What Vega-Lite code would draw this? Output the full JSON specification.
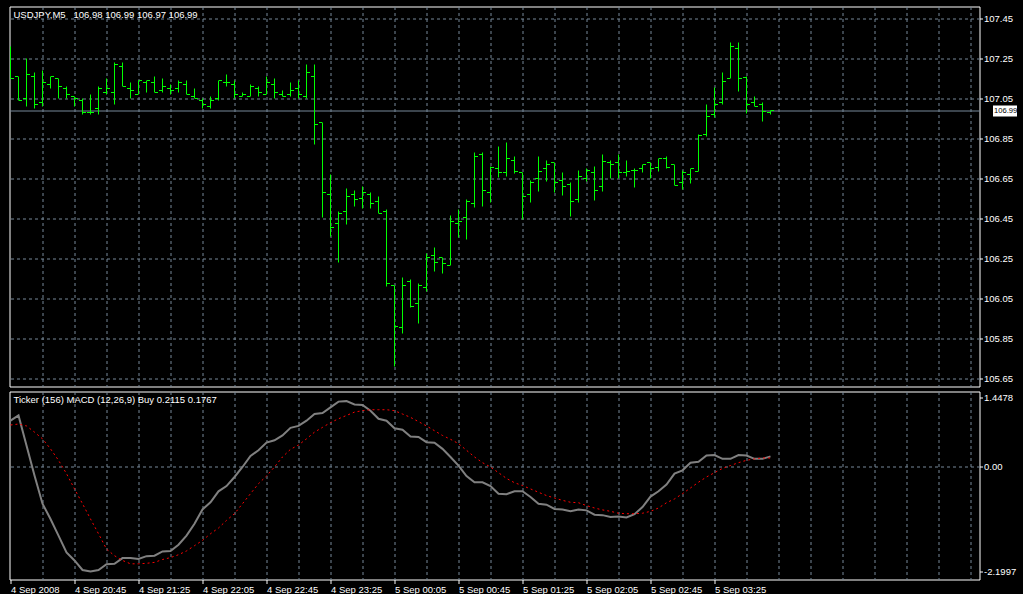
{
  "$schema": "https://vega.github.io/schema/vega-lite/v6.json",
  "background": "black",
  "padding": {"left": 5.5, "top": 5.5, "right": 0, "bottom": 0},
  "spacing": 3,
  "config": {
    "view": {"stroke": "white", "strokeWidth": 1, "fill": "black"},
    "axis": {
      "labelFont": "Liberation Sans",
      "labelFontSize": 9.5,
      "labelColor": "white",
      "gridColor": "#778899",
      "gridDash": [3, 3],
      "gridWidth": 1,
      "gridOpacity": 1,
      "domain": false,
      "title": null,
      "labelOverlap": false,
      "labelFlush": false
    },
    "title": {
      "color": "white",
      "font": "Liberation Sans",
      "fontSize": 9.5,
      "fontWeight": "normal",
      "anchor": "start",
      "offset": -13,
      "dx": 4,
      "frame": "group"
    }
  },
  "data": {
    "values": [
      {"i": 0, "o": null, "h": 107.31, "l": 107.15, "c": 107.15, "m": 0.96, "s": 0.87},
      {"i": 1, "o": 107.16, "h": 107.16, "l": 107.04, "c": 107.04, "m": 1.07, "s": 0.89},
      {"i": 2, "o": 107.05, "h": 107.25, "l": 107.01, "c": 107.17, "m": 0.44, "s": 0.85},
      {"i": 3, "o": 107.16, "h": 107.18, "l": 107.0, "c": 107.02, "m": -0.19, "s": 0.72},
      {"i": 4, "o": 107.03, "h": 107.19, "l": 107.01, "c": 107.13, "m": -0.78, "s": 0.58},
      {"i": 5, "o": 107.12, "h": 107.16, "l": 107.1, "c": 107.16, "m": -1.1, "s": 0.37},
      {"i": 6, "o": 107.15, "h": 107.15, "l": 107.05, "c": 107.11, "m": -1.45, "s": 0.13},
      {"i": 7, "o": 107.1, "h": 107.11, "l": 107.05, "c": 107.07, "m": -1.8, "s": -0.15},
      {"i": 8, "o": 107.06, "h": 107.06, "l": 107.01, "c": 107.05, "m": -1.97, "s": -0.47},
      {"i": 9, "o": 107.04, "h": 107.05, "l": 106.97, "c": 106.98, "m": -2.17, "s": -0.78},
      {"i": 10, "o": 106.98, "h": 107.07, "l": 106.97, "c": 106.98, "m": -2.2, "s": -1.1},
      {"i": 11, "o": 107.0, "h": 107.11, "l": 106.97, "c": 107.1, "m": -2.17, "s": -1.41},
      {"i": 12, "o": 107.08, "h": 107.15, "l": 107.07, "c": 107.1, "m": -2.05, "s": -1.73},
      {"i": 13, "o": 107.08, "h": 107.23, "l": 107.02, "c": 107.22, "m": -2.04, "s": -1.87},
      {"i": 14, "o": 107.21, "h": 107.23, "l": 107.11, "c": 107.11, "m": -1.92, "s": -1.97},
      {"i": 15, "o": 107.1, "h": 107.13, "l": 107.05, "c": 107.09, "m": -1.92, "s": -2.04},
      {"i": 16, "o": 107.07, "h": 107.14, "l": 107.07, "c": 107.14, "m": -1.94, "s": -2.04},
      {"i": 17, "o": 107.13, "h": 107.14, "l": 107.08, "c": 107.14, "m": -1.88, "s": -2.03},
      {"i": 18, "o": 107.13, "h": 107.16, "l": 107.08, "c": 107.08, "m": -1.87, "s": -2.01},
      {"i": 19, "o": 107.09, "h": 107.15, "l": 107.08, "c": 107.11, "m": -1.78, "s": -1.95},
      {"i": 20, "o": 107.1, "h": 107.12, "l": 107.07, "c": 107.09, "m": -1.77, "s": -1.91},
      {"i": 21, "o": 107.1, "h": 107.14, "l": 107.08, "c": 107.13, "m": -1.64, "s": -1.85},
      {"i": 22, "o": 107.12, "h": 107.14, "l": 107.07, "c": 107.07, "m": -1.45, "s": -1.77},
      {"i": 23, "o": 107.06, "h": 107.1, "l": 107.05, "c": 107.05, "m": -1.2, "s": -1.66},
      {"i": 24, "o": 107.04, "h": 107.05, "l": 107.0, "c": 107.02, "m": -0.9, "s": -1.55},
      {"i": 25, "o": 107.01, "h": 107.06, "l": 107.0, "c": 107.04, "m": -0.75, "s": -1.41},
      {"i": 26, "o": 107.05, "h": 107.14, "l": 107.04, "c": 107.14, "m": -0.52, "s": -1.29},
      {"i": 27, "o": 107.13, "h": 107.17, "l": 107.11, "c": 107.13, "m": -0.41, "s": -1.13},
      {"i": 28, "o": 107.12, "h": 107.14, "l": 107.05, "c": 107.07, "m": -0.22, "s": -0.99},
      {"i": 29, "o": 107.06, "h": 107.08, "l": 107.06, "c": 107.07, "m": -0.01, "s": -0.78},
      {"i": 30, "o": 107.06, "h": 107.12, "l": 107.06, "c": 107.11, "m": 0.22, "s": -0.57},
      {"i": 31, "o": 107.1, "h": 107.11, "l": 107.06, "c": 107.08, "m": 0.34, "s": -0.36},
      {"i": 32, "o": 107.07, "h": 107.16, "l": 107.07, "c": 107.13, "m": 0.5, "s": -0.2},
      {"i": 33, "o": 107.12, "h": 107.15, "l": 107.05, "c": 107.08, "m": 0.55, "s": -0.01},
      {"i": 34, "o": 107.07, "h": 107.09, "l": 107.06, "c": 107.06, "m": 0.65, "s": 0.2},
      {"i": 35, "o": 107.07, "h": 107.13, "l": 107.06, "c": 107.09, "m": 0.81, "s": 0.36},
      {"i": 36, "o": 107.1, "h": 107.14, "l": 107.05, "c": 107.07, "m": 0.85, "s": 0.45},
      {"i": 37, "o": 107.06, "h": 107.22, "l": 107.05, "c": 107.18, "m": 0.96, "s": 0.58},
      {"i": 38, "o": 107.16, "h": 107.22, "l": 106.82, "c": 106.92, "m": 1.1, "s": 0.72},
      {"i": 39, "o": 106.93, "h": 106.93, "l": 106.455, "c": 106.58, "m": 1.12, "s": 0.82},
      {"i": 40, "o": 106.57, "h": 106.67, "l": 106.36, "c": 106.405, "m": 1.24, "s": 0.92},
      {"i": 41, "o": 106.425, "h": 106.485, "l": 106.233, "c": 106.475, "m": 1.36, "s": 1.0},
      {"i": 42, "o": 106.485, "h": 106.6, "l": 106.42, "c": 106.56, "m": 1.37, "s": 1.07},
      {"i": 43, "o": 106.57, "h": 106.59, "l": 106.513, "c": 106.547, "m": 1.3, "s": 1.14},
      {"i": 44, "o": 106.55, "h": 106.61, "l": 106.5, "c": 106.58, "m": 1.29, "s": 1.17},
      {"i": 45, "o": 106.57, "h": 106.58, "l": 106.5, "c": 106.525, "m": 1.17, "s": 1.19},
      {"i": 46, "o": 106.535, "h": 106.56, "l": 106.475, "c": 106.475, "m": 1.0, "s": 1.19},
      {"i": 47, "o": 106.485, "h": 106.497, "l": 106.113, "c": 106.125, "m": 0.96, "s": 1.19},
      {"i": 48, "o": 106.117, "h": 106.117, "l": 105.713, "c": 105.913, "m": 0.8, "s": 1.17},
      {"i": 49, "o": 105.905, "h": 106.155, "l": 105.875, "c": 106.117, "m": 0.77, "s": 1.1},
      {"i": 50, "o": 106.135, "h": 106.147, "l": 106.005, "c": 106.013, "m": 0.63, "s": 1.03},
      {"i": 51, "o": 106.025, "h": 106.127, "l": 105.925, "c": 106.117, "m": 0.62, "s": 0.94},
      {"i": 52, "o": 106.105, "h": 106.277, "l": 106.085, "c": 106.255, "m": 0.51, "s": 0.85},
      {"i": 53, "o": 106.267, "h": 106.305, "l": 106.185, "c": 106.233, "m": 0.5, "s": 0.75},
      {"i": 54, "o": 106.255, "h": 106.255, "l": 106.175, "c": 106.225, "m": 0.37, "s": 0.65},
      {"i": 55, "o": 106.217, "h": 106.467, "l": 106.217, "c": 106.435, "m": 0.2, "s": 0.57},
      {"i": 56, "o": 106.425, "h": 106.497, "l": 106.355, "c": 106.435, "m": 0.02, "s": 0.48},
      {"i": 57, "o": 106.455, "h": 106.547, "l": 106.347, "c": 106.538, "m": -0.2, "s": 0.34},
      {"i": 58, "o": 106.525, "h": 106.78, "l": 106.505, "c": 106.76, "m": -0.33, "s": 0.2},
      {"i": 59, "o": 106.772, "h": 106.78, "l": 106.513, "c": 106.59, "m": -0.33, "s": 0.08},
      {"i": 60, "o": 106.58, "h": 106.713, "l": 106.533, "c": 106.708, "m": -0.41, "s": -0.01},
      {"i": 61, "o": 106.7, "h": 106.813, "l": 106.658, "c": 106.683, "m": -0.57, "s": -0.13},
      {"i": 62, "o": 106.683, "h": 106.833, "l": 106.66, "c": 106.75, "m": -0.58, "s": -0.25},
      {"i": 63, "o": 106.741, "h": 106.763, "l": 106.677, "c": 106.688, "m": -0.52, "s": -0.34},
      {"i": 64, "o": 106.68, "h": 106.68, "l": 106.447, "c": 106.56, "m": -0.52, "s": -0.4},
      {"i": 65, "o": 106.572, "h": 106.641, "l": 106.533, "c": 106.633, "m": -0.64, "s": -0.47},
      {"i": 66, "o": 106.65, "h": 106.763, "l": 106.588, "c": 106.688, "m": -0.78, "s": -0.54},
      {"i": 67, "o": 106.7, "h": 106.741, "l": 106.638, "c": 106.721, "m": -0.8, "s": -0.61},
      {"i": 68, "o": 106.73, "h": 106.73, "l": 106.58, "c": 106.63, "m": -0.89, "s": -0.66},
      {"i": 69, "o": 106.641, "h": 106.683, "l": 106.567, "c": 106.61, "m": -0.9, "s": -0.71},
      {"i": 70, "o": 106.62, "h": 106.63, "l": 106.463, "c": 106.538, "m": -0.94, "s": -0.75},
      {"i": 71, "o": 106.547, "h": 106.691, "l": 106.533, "c": 106.66, "m": -0.9, "s": -0.76},
      {"i": 72, "o": 106.65, "h": 106.7, "l": 106.638, "c": 106.691, "m": -0.92, "s": -0.82},
      {"i": 73, "o": 106.683, "h": 106.713, "l": 106.543, "c": 106.592, "m": -1.01, "s": -0.87},
      {"i": 74, "o": 106.61, "h": 106.772, "l": 106.588, "c": 106.738, "m": -1.02, "s": -0.91},
      {"i": 75, "o": 106.73, "h": 106.741, "l": 106.65, "c": 106.721, "m": -1.06, "s": -0.94},
      {"i": 76, "o": 106.73, "h": 106.772, "l": 106.65, "c": 106.68, "m": -1.05, "s": -0.98},
      {"i": 77, "o": 106.68, "h": 106.741, "l": 106.66, "c": 106.688, "m": -1.07, "s": -0.99},
      {"i": 78, "o": 106.691, "h": 106.7, "l": 106.608, "c": 106.691, "m": -1.0, "s": -0.99},
      {"i": 79, "o": 106.7, "h": 106.721, "l": 106.68, "c": 106.721, "m": -0.85, "s": -0.98},
      {"i": 80, "o": 106.73, "h": 106.73, "l": 106.65, "c": 106.7, "m": -0.63, "s": -0.94},
      {"i": 81, "o": 106.708, "h": 106.75, "l": 106.688, "c": 106.75, "m": -0.52, "s": -0.87},
      {"i": 82, "o": 106.75, "h": 106.76, "l": 106.7, "c": 106.708, "m": -0.38, "s": -0.76},
      {"i": 83, "o": 106.721, "h": 106.721, "l": 106.618, "c": 106.618, "m": -0.15, "s": -0.68},
      {"i": 84, "o": 106.63, "h": 106.691, "l": 106.597, "c": 106.68, "m": -0.08, "s": -0.57},
      {"i": 85, "o": 106.672, "h": 106.7, "l": 106.627, "c": 106.7, "m": 0.08, "s": -0.45},
      {"i": 86, "o": 106.688, "h": 106.871, "l": 106.688, "c": 106.866, "m": 0.1, "s": -0.33},
      {"i": 87, "o": 106.872, "h": 107.022, "l": 106.86, "c": 106.96, "m": 0.23, "s": -0.22},
      {"i": 88, "o": 106.97, "h": 107.105, "l": 106.955, "c": 107.02, "m": 0.24, "s": -0.13},
      {"i": 89, "o": 107.03, "h": 107.18, "l": 107.02, "c": 107.138, "m": 0.16, "s": -0.04},
      {"i": 90, "o": 107.151, "h": 107.33, "l": 107.151, "c": 107.31, "m": 0.16, "s": 0.02},
      {"i": 91, "o": 107.3, "h": 107.33, "l": 107.088, "c": 107.151, "m": 0.24, "s": 0.08},
      {"i": 92, "o": 107.158, "h": 107.163, "l": 106.976, "c": 107.022, "m": 0.23, "s": 0.13},
      {"i": 93, "o": 107.03, "h": 107.06, "l": 107.01, "c": 107.013, "m": 0.16, "s": 0.16},
      {"i": 94, "o": 107.022, "h": 107.03, "l": 106.938, "c": 106.988, "m": 0.16, "s": 0.18},
      {"i": 95, "o": 106.98, "h": 106.99, "l": 106.97, "c": 106.99, "m": 0.2115, "s": 0.1767}
    ]
  },
  "resolve": {
    "scale": {"x": "independent", "y": "independent"},
    "axis": {"x": "independent", "y": "independent"}
  },
  "vconcat": [
    {
      "width": 970,
      "height": 380,
      "title": {"text": "USDJPY,M5\u00a0\u00a0 106.98 106.99 106.97 106.99"},
      "layer": [
        {
          "mark": {"type": "rule", "color": "#00ff00", "strokeWidth": 1},
          "encoding": {
            "x": {
              "field": "i",
              "type": "quantitative",
              "scale": {"domain": [-0.125, 121.125], "nice": false, "zero": false, "round": true},
              "axis": {
                "orient": "bottom",
                "values": [4, 8, 12, 16, 20, 24, 28, 32, 36, 40, 44, 48, 52, 56, 60, 64, 68, 72, 76, 80, 84, 88, 92, 96, 100, 104, 108, 112, 116, 120],
                "tickCount": 1000,
                "labels": false,
                "ticks": false,
                "grid": true
              }
            },
            "y": {
              "field": "l",
              "type": "quantitative",
              "scale": {"domain": [105.6115, 107.5115], "nice": false, "zero": false, "round": true},
              "axis": {
                "orient": "right",
                "values": [105.65, 105.85, 106.05, 106.25, 106.45, 106.65, 106.85, 106.99, 107.05, 107.25, 107.45],
                "tickCount": 1000,
                "labelOverlap": false,
                "labelExpr": "format(datum.value, '.2f')",
                "grid": true,
                "gridDash": {"condition": {"test": "abs(datum.value - 106.99) < 0.001", "value": []}, "value": [3, 3]},
                "ticks": true,
                "tickSize": 37,
                "tickColor": "white",
                "tickWidth": {"condition": {"test": "abs(datum.value - 106.99) < 0.001", "value": 11}, "value": 1},
                "tickDash": {"condition": {"test": "abs(datum.value - 106.99) < 0.001", "value": [0, 13, 24, 40]}, "value": [3, 40]},
                "labelPadding": {"condition": {"test": "abs(datum.value - 106.99) < 0.001", "value": -23}, "value": -33},
                "labelColor": {"condition": {"test": "abs(datum.value - 106.99) < 0.001", "value": "black"}, "value": "white"},
                "labelFontSize": {"condition": {"test": "abs(datum.value - 106.99) < 0.001", "value": 7.6}, "value": 9.5},
                "labelAlign": "left",
                "labelBaseline": "middle"
              }
            },
            "y2": {"field": "h"}
          }
        },
        {
          "mark": {"type": "rule", "color": "#00ff00", "strokeWidth": 1, "xOffset": -3.5, "x2Offset": -0.5},
          "encoding": {
            "x": {"field": "i", "type": "quantitative"},
            "x2": {"field": "i"},
            "y": {"field": "o", "type": "quantitative"}
          }
        },
        {
          "mark": {"type": "rule", "color": "#00ff00", "strokeWidth": 1, "xOffset": 0.5, "x2Offset": 3.5},
          "encoding": {
            "x": {"field": "i", "type": "quantitative"},
            "x2": {"field": "i"},
            "y": {"field": "c", "type": "quantitative"}
          }
        }
      ]
    },
    {
      "width": 970,
      "height": 188,
      "title": {"text": "Ticker (156) MACD (12,26,9) Buy 0.2115 0.1767"},
      "layer": [
        {
          "mark": {"type": "line", "color": "#808080", "strokeWidth": 2},
          "encoding": {
            "x": {
              "field": "i",
              "type": "quantitative",
              "scale": {"domain": [-0.125, 121.125], "nice": false, "zero": false},
              "axis": {
                "orient": "bottom",
                "values": [0, 4, 8, 12, 16, 20, 24, 28, 32, 36, 40, 44, 48, 52, 56, 60, 64, 68, 72, 76, 80, 84, 88, 92, 96, 100, 104, 108, 112, 116, 120],
                "tickCount": 1000,
                "labelOverlap": false,
                "grid": true,
                "gridOpacity": {"condition": {"test": "datum.value == 0", "value": 0}, "value": 1},
                "ticks": true,
                "tickSize": 4,
                "tickColor": "white",
                "tickOpacity": {"condition": {"test": "datum.value % 8 == 0 && datum.value <= 88", "value": 1}, "value": 0},
                "labelExpr": "datum.value % 8 == 0 && datum.value <= 88 ? ['4 Sep 2008','4 Sep 20:45','4 Sep 21:25','4 Sep 22:05','4 Sep 22:45','4 Sep 23:25','5 Sep 00:05','5 Sep 00:45','5 Sep 01:25','5 Sep 02:05','5 Sep 02:45','5 Sep 03:25'][datum.value / 8] : ''",
                "labelAlign": "left",
                "labelBaseline": "top",
                "labelPadding": 1
              }
            },
            "y": {
              "field": "m",
              "type": "quantitative",
              "scale": {"domain": [-2.369, 1.572], "nice": false, "zero": false},
              "axis": {
                "orient": "right",
                "values": [-2.1997, 0, 1.4478],
                "tickCount": 1000,
                "labelOverlap": false,
                "labelExpr": "datum.value == 0 ? '0.00' : '' + datum.value",
                "grid": true,
                "gridOpacity": {"condition": {"test": "datum.value == 0", "value": 1}, "value": 0},
                "ticks": true,
                "tickSize": 3,
                "tickColor": "white",
                "labelPadding": 1,
                "labelAlign": "left",
                "labelBaseline": "middle"
              }
            }
          }
        },
        {
          "mark": {"type": "line", "color": "#ff0000", "strokeWidth": 1, "strokeDash": [2, 3]},
          "encoding": {
            "x": {"field": "i", "type": "quantitative"},
            "y": {"field": "s", "type": "quantitative"}
          }
        }
      ]
    }
  ]
}
